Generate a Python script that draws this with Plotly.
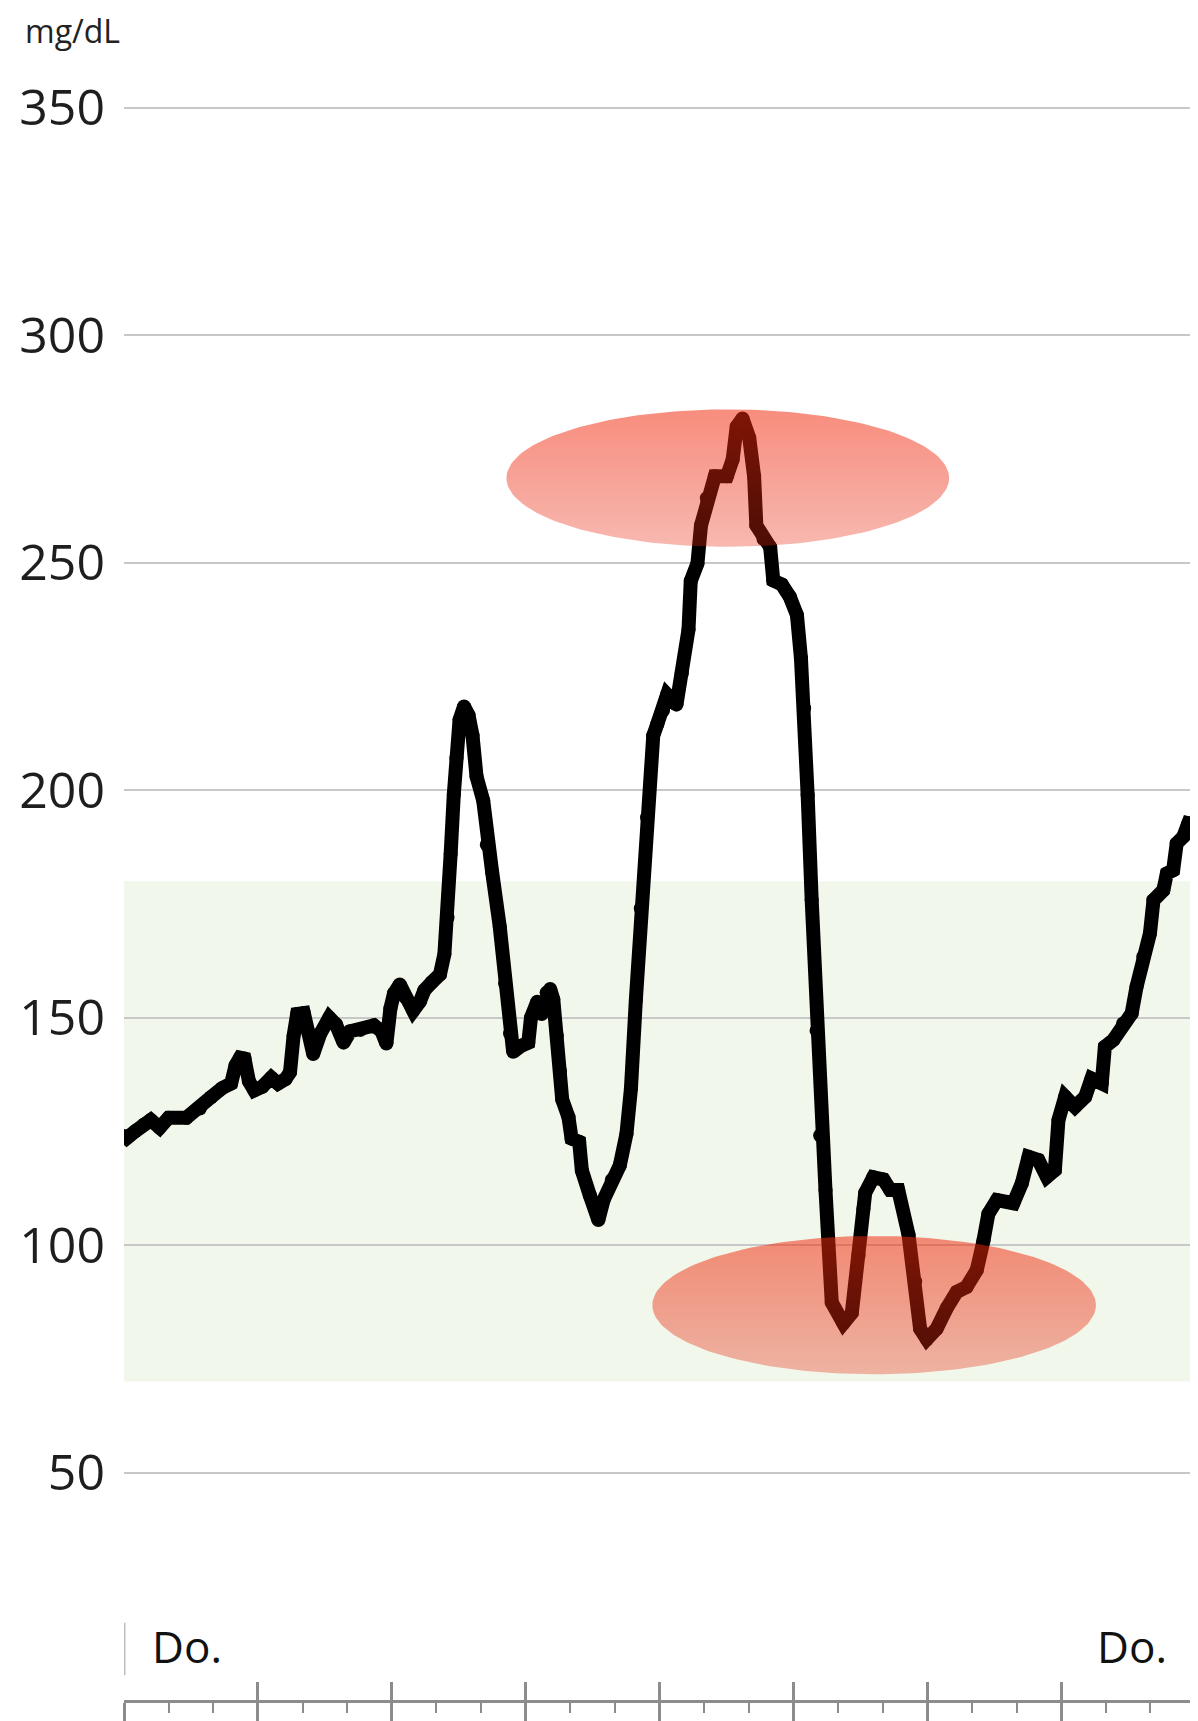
import numpy as np
import plotly.graph_objects as go

# ---------------- data ----------------
hours = [0.00, 0.06, 0.25, 0.45, 0.60, 0.80, 1.00, 1.40, 1.70, 1.95, 2.20, 2.40, 2.50, 2.60, 2.70,
         2.80, 2.92, 3.10, 3.30, 3.45, 3.62, 3.72, 3.80, 3.88, 4.03, 4.12, 4.24, 4.40, 4.60, 4.75,
         4.92, 5.07, 5.30, 5.60, 5.77, 5.88, 5.97, 6.05, 6.18, 6.30, 6.48, 6.63, 6.73, 6.90, 7.08,
         7.18, 7.25, 7.32, 7.39, 7.45, 7.52, 7.62, 7.72, 7.81, 7.90, 8.05, 8.13, 8.25, 8.42, 8.54,
         8.65, 8.72, 8.90, 9.06, 9.12, 9.26, 9.36, 9.47, 9.55, 9.62, 9.70, 9.77, 9.82, 9.96, 10.03,
         10.20, 10.26, 10.44, 10.63, 10.75, 10.93, 11.11, 11.26, 11.36, 11.47, 11.58, 11.72, 11.86,
         11.95, 12.08, 12.17, 12.38, 12.50, 12.65, 12.70, 12.85, 12.93, 13.06, 13.24, 13.51, 13.64,
         13.73, 13.86, 14.01, 14.12, 14.17, 14.33, 14.48, 14.55, 14.74, 14.92, 15.08, 15.17, 15.24,
         15.32, 15.41, 15.52, 15.60, 15.72, 15.86, 16.12, 16.31, 16.46, 16.57, 16.61, 16.79, 17.02,
         17.17, 17.35, 17.58, 17.73, 17.84, 17.99, 18.21, 18.44, 18.66, 18.88, 19.11, 19.26, 19.37,
         19.56, 19.93, 20.12, 20.27, 20.49, 20.68, 20.86, 20.94, 21.09, 21.31, 21.54, 21.68, 21.91,
         21.98, 22.17, 22.39, 22.58, 22.69, 22.84, 22.99, 23.07, 23.29, 23.37, 23.51, 23.59, 23.74,
         23.85, 23.93]

glucose = [124.0, 123.5, 125.0, 126.5, 127.5, 125.8, 128.0, 128.0, 130.0, 132.5, 134.5, 135.5, 139.5, 141.2, 141.0,
           136.0, 134.0, 134.8, 136.8, 135.5, 136.5, 138.0, 146.0, 150.8, 151.0, 147.0, 142.0, 146.5, 150.0, 148.5,
           144.5, 147.0, 147.3, 148.3, 147.0, 144.3, 152.0, 155.3, 157.3, 154.5, 151.5, 153.5, 156.0, 157.8, 159.5,
           164.0, 172.0, 186.0, 199.0, 207.0, 215.5, 218.4, 216.5, 212.0, 203.0, 197.7, 188.0, 182.0, 170.0, 157.5,
           146.5, 142.5, 143.8, 144.5, 150.0, 153.5, 150.8, 155.5, 156.3, 154.0, 146.0, 138.3, 132.0, 128.1, 123.4,
           122.7, 116.4, 110.9, 105.5, 110.0, 114.3, 117.5, 124.5, 134.4, 153.9, 174.0, 194.0, 212.0,
           214.5, 217.5, 221.0, 218.8, 225.7, 235.3, 246.0, 249.8, 258.2, 264.2, 269.0, 269.0, 272.7,
           279.9, 281.7, 277.5, 269.0, 258.2, 255.2, 253.4, 246.1, 245.2, 242.5, 238.5, 229.0, 218.0,
           198.9, 175.9, 147.1, 124.1, 112.0, 87.4, 82.8, 85.1, 97.7, 108.0, 111.5, 114.9, 114.4,
           112.1, 112.1, 102.3, 92.0, 81.6, 79.3, 81.6, 86.2, 89.7, 90.8, 94.5, 101.0, 106.9,
           109.9, 109.2, 113.6, 119.4, 118.7, 115.0, 116.5, 127.5, 132.6, 130.4, 132.6, 136.6, 135.5,
           143.6, 145.1, 148.7, 150.9, 156.8, 163.4, 168.5, 175.8, 178.0, 181.7, 182.4, 188.3, 189.8,
           192.7, 192.5]

y_ticks = [50, 100, 150, 200, 250, 300, 350]
y_tick_labels = ["50", "100", "150", "200", "250", "300", "350"]
target_range = [70, 180]
day_label = "Do."
unit_label = "mg/dL"

# highlighted zones: (center hour, center value, half width hours, half height mg/dL)
highlights = [(13.53, 268.6, 4.96, 15.1), (16.81, 86.8, 4.97, 15.2)]

# ---------------- figure ----------------
FONT = "Open Sans"
LW = 14
fig = go.Figure()

fig.add_trace(go.Scatter(
    x=hours, y=glucose, mode="lines+markers",
    line=dict(color="#000000", width=LW),
    marker=dict(color="#000000", size=LW, line=dict(width=0)),
    hoverinfo="skip", showlegend=False,
))

t = np.linspace(0, 2 * np.pi, 181)
for cx, cy, rx, ry in highlights:
    fig.add_trace(go.Scatter(
        x=cx + rx * np.cos(t), y=cy + ry * np.sin(t),
        mode="lines", line=dict(width=0), fill="toself",
        fillgradient=dict(type="vertical",
                          colorscale=[[0, "rgba(232,40,15,0.33)"], [1, "rgba(242,40,10,0.53)"]]),
        xaxis="x2", yaxis="y",
        hoverinfo="skip", showlegend=False,
    ))

# target range band
fig.add_shape(type="rect", xref="paper", x0=0, x1=1, yref="y",
              y0=target_range[0], y1=target_range[1],
              fillcolor="#F1F7EA", line=dict(width=0), layer="below")

# day boundary markers
for xb in [0, 24]:
    fig.add_shape(type="line", xref="x", yref="y", x0=xb, x1=xb, y0=5.5, y1=17,
                  line=dict(color="#bdbdbd", width=3), layer="above")

fig.add_annotation(x=0.58, y=11.9, xref="x", yref="y", text=day_label, showarrow=False,
                   xanchor="left", yanchor="middle", font=dict(family=FONT, size=44, color="#111111"))
fig.add_annotation(x=23.42, y=11.9, xref="x", yref="y", text=day_label, showarrow=False,
                   xanchor="right", yanchor="middle", font=dict(family=FONT, size=44, color="#111111"))

fig.add_annotation(x=-0.0943, y=1.0055, xref="paper", yref="paper", text=unit_label, showarrow=False,
                   xanchor="left", yanchor="middle", font=dict(family=FONT, size=32, color="#222222"))

axis_common = dict(range=[0, 24], showgrid=False, zeroline=False, showticklabels=False,
                   tickmode="linear", tick0=0, dtick=3, ticklen=18, tickwidth=3, tickcolor="#8c8c8c",
                   minor=dict(tickmode="linear", tick0=0, dtick=1, ticklen=10, tickwidth=2,
                              tickcolor="#8c8c8c", showgrid=False))

# page body has an 8px default margin: the figure is shifted accordingly
fig.update_layout(
    width=1190, height=1713,
    margin=dict(l=116, r=3, t=32, b=21),
    paper_bgcolor="white", plot_bgcolor="white",
    font=dict(family=FONT),
    showlegend=False,
    xaxis=dict(**axis_common, ticks="outside", showline=True, linecolor="#8c8c8c", linewidth=3),
    xaxis2=dict(**axis_common, ticks="inside", overlaying="x", anchor="y", side="bottom",
                showline=False),
    yaxis=dict(range=[0, 364.9], tickmode="array", tickvals=y_ticks, ticktext=y_tick_labels,
               showgrid=True, gridcolor="#c8c8c8", gridwidth=2, zeroline=False, showline=False,
               ticks="", ticklabelstandoff=18,
               tickfont=dict(family=FONT, size=50, color="#1e1e1e")),
)

fig.write_html("out.html")
